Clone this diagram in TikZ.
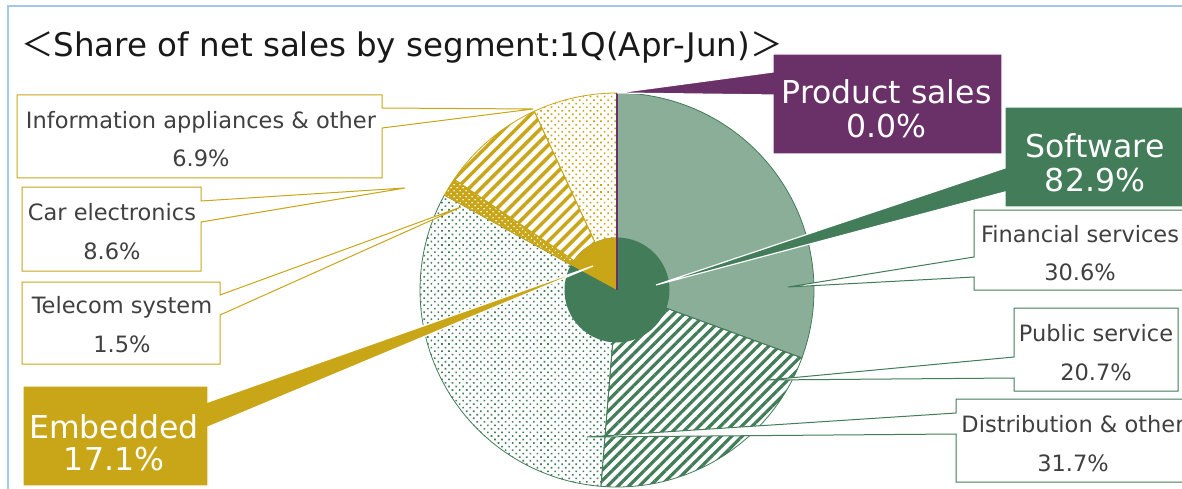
\documentclass[tikz,border=0pt]{standalone}
\usepackage{fontspec}
\setmainfont{DejaVu Sans}
\newfontfamily\cjkfont{Noto Sans CJK JP}
\usetikzlibrary{patterns.meta}

\definecolor{segGreen}{HTML}{427C59}
\definecolor{segGold}{HTML}{C9A618}
\definecolor{segPurple}{HTML}{6A3068}
\definecolor{labelGray}{HTML}{404040}
\definecolor{frameBlue}{HTML}{A4C8EC}

\tikzset{
  segwedge/.style 2 args={insert path={(c) -- ++(#1:197) arc[start angle=#1, end angle=#2, radius=197] -- cycle}},
  boxshape/.style={rectangle, inner sep=0pt, outer sep=0pt},
  smalltext/.style={anchor=base, inner sep=0pt, text=labelGray, font=\fontsize{22.5}{27}\selectfont},
  bigtext/.style={anchor=base, inner sep=0pt, text=white, font=\fontsize{31.5}{36}\selectfont},
  greencallout/.style={draw=segGreen, fill=white, line width=1pt, line join=miter},
  goldcallout/.style={draw=segGold, fill=white, line width=1pt, line join=miter},
  bigcallout/.style={draw=white, line width=1.2pt, line join=miter},
}

\begin{document}
\begin{tikzpicture}[x=1pt, y=1pt]
\useasboundingbox (0,0) rectangle (1182,-489);
\clip (0,0) rectangle (1182,-489);
\fill[white] (0,0) rectangle (1182,-489);

% outer frame
\draw[frameBlue, line width=1.5pt] (8,-500) -- (8,-6) -- (1200,-6);

% title
\node[anchor=base west, inner sep=0pt, text=black!90, font=\fontsize{32.5}{40}\selectfont] (title) at (21,-57)
  {{\cjkfont ＜}Share of net sales by segment:1Q(Apr-Jun){\cjkfont ＞}};

% ---- pie: outer ring of sub-segments ----
\coordinate (c) at (617,-290);
% Financial services
\path[fill=segGreen!62!white, draw=segGreen, line width=0.8pt, segwedge={90}{-20.16}];
% Public service
\path[pattern={Lines[angle=45, distance=7.5pt, line width=3.2pt]}, pattern color=segGreen,
      draw=segGreen, line width=0.8pt, segwedge={-20.16}{-94.68}];
% Distribution & other
\path[pattern={Dots[angle=45, distance=5pt, radius=1.15pt]}, pattern color=segGreen,
      draw=segGreen, line width=0.8pt, segwedge={-94.68}{-208.8}];
% Telecom system
\path[fill=segGold, segwedge={-208.8}{-214.2}];
\path[pattern={Dots[angle=45, distance=4pt, radius=0.9pt]}, pattern color=white,
      draw=segGold, line width=0.8pt, segwedge={-208.8}{-214.2}];
% Car electronics
\path[pattern={Lines[angle=45, distance=8.5pt, line width=3.5pt]}, pattern color=segGold,
      draw=segGold, line width=0.8pt, segwedge={-214.2}{-245.16}];
% Information appliances & other
\path[pattern={Dots[angle=45, distance=5pt, radius=1.15pt]}, pattern color=segGold,
      draw=segGold, line width=0.8pt, segwedge={-245.16}{-270}];

% ---- inner pie: segments ----
\fill[segGreen] (c) circle[radius=52.5];
\fill[segGold] (c) -- ++(90:52.5) arc[start angle=90, end angle=151.56, radius=52.5] -- cycle;
\draw[segPurple, line width=2pt] (c) -- ++(90:197);

% ---- label boxes (shapes only) ----
\node[boxshape, minimum width=229pt, minimum height=100pt] (prodbox) at (887.5,-104) {};
\node[boxshape, minimum width=180pt, minimum height=100pt] (softbox) at (1095,-157) {};
\node[boxshape, minimum width=185pt, minimum height=100pt] (embbox) at (115.5,-436) {};
\node[boxshape, minimum width=365pt, minimum height=83pt] (infobox) at (199.5,-136.5) {};
\node[boxshape, minimum width=179pt, minimum height=84pt] (carbox) at (111.5,-229) {};
\node[boxshape, minimum width=198pt, minimum height=82pt] (telbox) at (121,-323) {};
\node[boxshape, minimum width=212pt, minimum height=80pt] (finbox) at (1080,-250) {};
\node[boxshape, minimum width=164pt, minimum height=83pt] (pubbox) at (1096,-349.5) {};
\node[boxshape, minimum width=234pt, minimum height=83pt] (distbox) at (1073,-440.5) {};

% callout tips
\coordinate (prodtip) at (617,-93);
\coordinate (softtip) at (656,-285);
\coordinate (embtip) at (593,-266);
\coordinate (infotip) at (533,-109);
\coordinate (cartip) at (405,-188);
\coordinate (teltip) at (461,-207);
\coordinate (fintip) at (788,-287);
\coordinate (pubtip) at (768,-380);
\coordinate (disttip) at (587,-437);

% ---- small callouts ----
\path[goldcallout] (infobox.north west) -- (infobox.north east) -- ([yshift=-13pt]infobox.north east)
  -- (infotip) -- ([yshift=-33pt]infobox.north east) -- (infobox.south east) -- (infobox.south west) -- cycle;
\path[goldcallout] (carbox.north west) -- (carbox.north east) -- ([yshift=-14pt]carbox.north east)
  -- (cartip) -- ([yshift=-35pt]carbox.north east) -- (carbox.south east) -- (carbox.south west) -- cycle;
\path[goldcallout] (telbox.north west) -- (telbox.north east) -- ([yshift=-13pt]telbox.north east)
  -- (teltip) -- ([yshift=-33pt]telbox.north east) -- (telbox.south east) -- (telbox.south west) -- cycle;
\path[greencallout] (finbox.north east) -- (finbox.north west) -- ([yshift=-47pt]finbox.north west)
  -- (fintip) -- ([yshift=-67pt]finbox.north west) -- (finbox.south west) -- (finbox.south east) -- cycle;
\path[greencallout] (pubbox.north east) -- (pubbox.north west) -- ([yshift=-49pt]pubbox.north west)
  -- (pubtip) -- ([yshift=-70pt]pubbox.north west) -- (pubbox.south west) -- (pubbox.south east) -- cycle;
\path[greencallout] (distbox.north east) -- (distbox.north west) -- ([yshift=-14pt]distbox.north west)
  -- (disttip) -- ([yshift=-35pt]distbox.north west) -- (distbox.south west) -- (distbox.south east) -- cycle;

% ---- segment callouts ----
\path[bigcallout, fill=segPurple] (prodbox.north west) -- (prodbox.north east) -- (prodbox.south east)
  -- (prodbox.south west) -- ([yshift=-41pt]prodbox.north west) -- (prodtip)
  -- ([yshift=-18pt]prodbox.north west) -- cycle;
\path[bigcallout, fill=segGreen] (softbox.north west) -- (softbox.north east) -- (softbox.south east)
  -- (softbox.south west) -- ([yshift=-85pt]softbox.north west) -- (softtip)
  -- ([yshift=-61pt]softbox.north west) -- cycle;
\path[bigcallout, fill=segGold] (embbox.north west) -- (embbox.north east) -- ([yshift=-16pt]embbox.north east)
  -- (embtip) -- ([yshift=-41pt]embbox.north east) -- (embbox.south east) -- (embbox.south west) -- cycle;

% ---- texts ----
\node[bigtext] (prod1) at (886.5,-104) {Product sales};
\node[bigtext] (prod2) at (886.5,-138) {0.0\%};
\node[bigtext] (soft1) at (1095,-158) {Software};
\node[bigtext] (soft2) at (1095,-192) {82.9\%};
\node[bigtext] (emb1) at (114,-438) {Embedded};
\node[bigtext] (emb2) at (114,-470) {17.1\%};

\node[smalltext] (info1) at (201,-129) {Information appliances \& other};
\node[smalltext] (info2) at (201,-167) {6.9\%};
\node[smalltext] (car1) at (112,-220) {Car electronics};
\node[smalltext] (car2) at (112,-259) {8.6\%};
\node[smalltext] (tel1) at (122,-313) {Telecom system};
\node[smalltext] (tel2) at (122,-352) {1.5\%};
\node[smalltext] (fin1) at (1080,-242) {Financial services};
\node[smalltext] (fin2) at (1080,-280) {30.6\%};
\node[smalltext] (pub1) at (1096,-341) {Public service};
\node[smalltext] (pub2) at (1096,-380) {20.7\%};
\node[smalltext] (dist1) at (1073,-432) {Distribution \& other};
\node[smalltext] (dist2) at (1073,-471) {31.7\%};
\end{tikzpicture}
\end{document}
